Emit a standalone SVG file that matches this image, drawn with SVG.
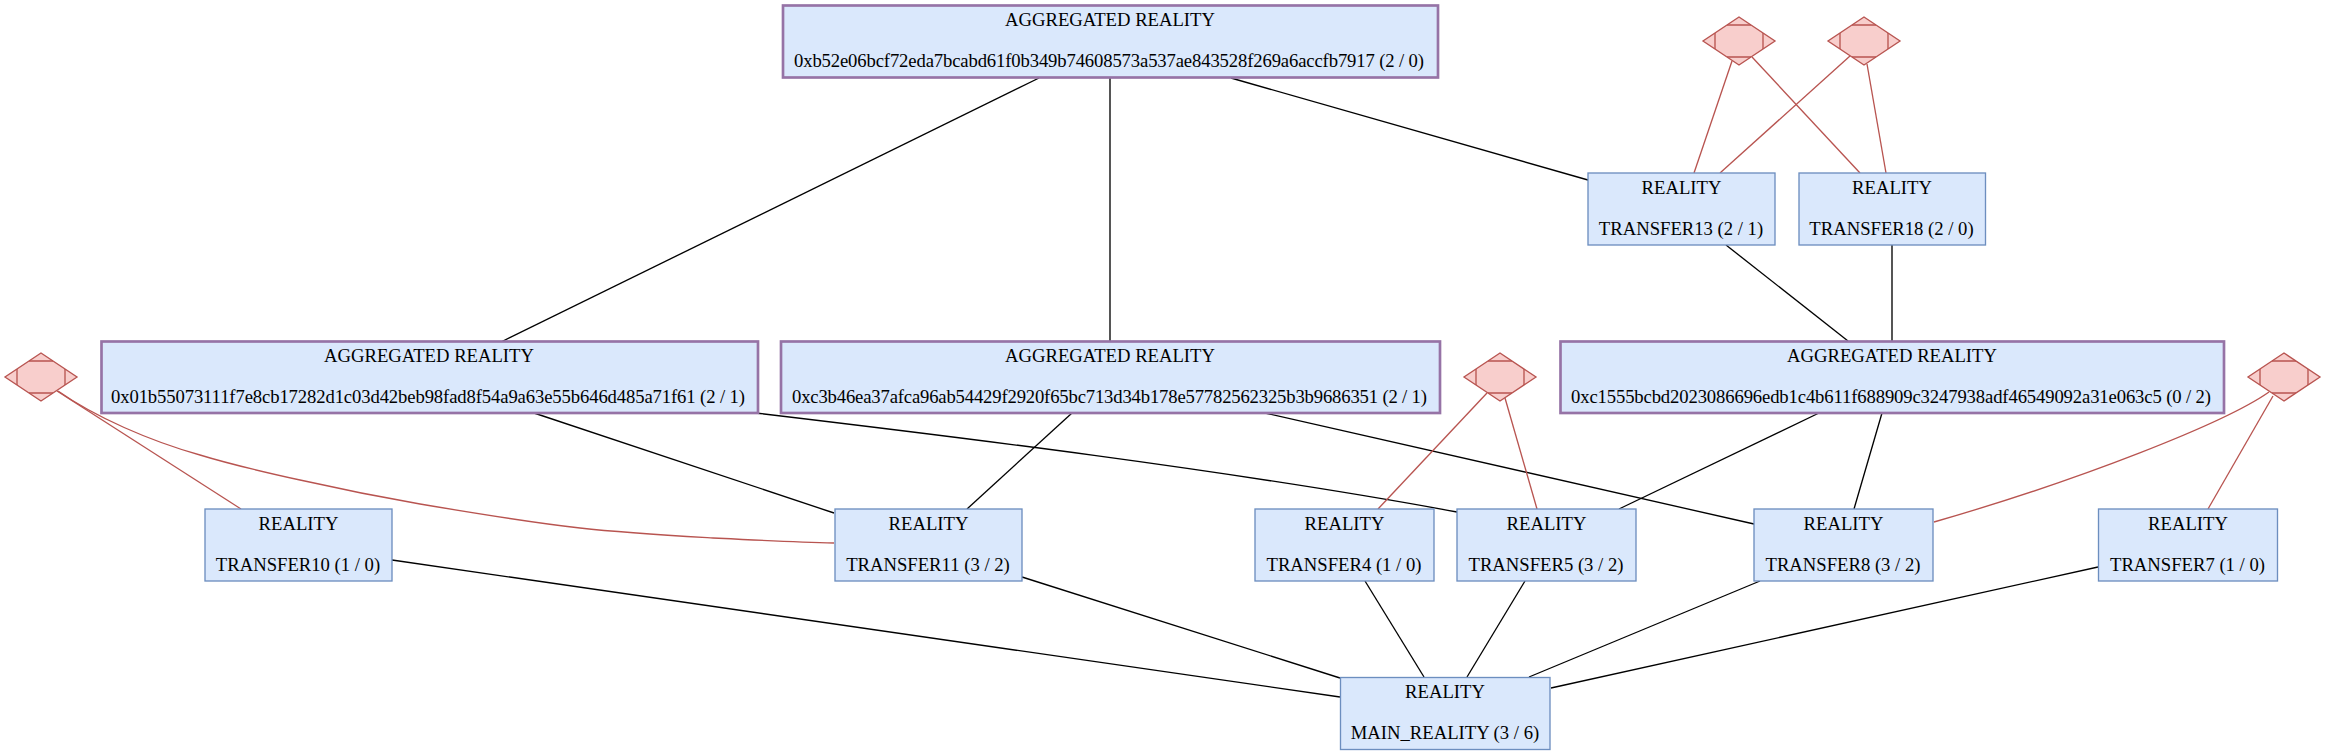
<svg xmlns="http://www.w3.org/2000/svg" width="2325" height="755" viewBox="0 0 2325 755">
<style>
text{font-family:"Liberation Serif","Times New Roman",serif;font-size:18.67px;text-anchor:middle;fill:#000}
.box{fill:#dae8fc;stroke:#6c8ebf;stroke-width:1.33}
.agg{fill:#dae8fc;stroke:#9673a6;stroke-width:2.67}
.dia{fill:#f8cecc;stroke:#b85450;stroke-width:1.33}
.e{fill:none;stroke:#000;stroke-width:1.33}
.r{fill:none;stroke:#b85450;stroke-width:1.33}
</style>
<defs>
<g id="mdiamond">
<polygon class="dia" points="0,-24 36,0 0,24 -36,0"/>
<path class="dia" d="M-12,-16H12M24,-8V8M12,16H-12M-24,8V-8"/>
</g>
</defs>
<rect width="2325" height="755" fill="#fff"/>
<g id="connectors">
<path class="e" d="M1039,78L501,342"/>
<path class="e" d="M1110,78V341"/>
<path class="e" d="M1231,78L1588,180"/>
<path class="e" d="M1726,245L1848,341"/>
<path class="e" d="M1892,245V341"/>
<path class="e" d="M534,413L834,513"/>
<path class="e" d="M756,413C950,436 1230,470 1457,512"/>
<path class="e" d="M1072,413L967,509"/>
<path class="e" d="M1265,413L1754,524"/>
<path class="e" d="M1819,413L1619,509"/>
<path class="e" d="M1882,413L1854,509"/>
<path class="e" d="M392,560L1340,697"/>
<path class="e" d="M1022,577L1340,678"/>
<path class="e" d="M1365,581L1424,677"/>
<path class="e" d="M1525,581L1467,677"/>
<path class="e" d="M1760,581L1529,677"/>
<path class="e" d="M2098,567L1551,688"/>
<path class="r" d="M1732,61L1694,173"/>
<path class="r" d="M1752,57L1860,173"/>
<path class="r" d="M1850,56L1720,173"/>
<path class="r" d="M1867,64L1886,173"/>
<path class="r" d="M57,391L241,509"/>
<path class="r" d="M58,391C95,417 150,441 200,455C236,466 268,473 300,480C340,489 380,497 420,504C473,513 527,522 580,528C625,533 670,535.5 713,538C754,540 794,542 834,543"/>
<path class="r" d="M1487,393L1378,509"/>
<path class="r" d="M1505,398L1537,509"/>
<path class="r" d="M2269,392C2225,423 2080,480 1934,522"/>
<path class="r" d="M2273,396L2208,509"/>
</g>
<g id="agg-b52"><rect class="agg" x="783" y="5.500" width="655" height="72"/><text x="1110" y="26">AGGREGATED REALITY</text><text x="1109" y="67" textLength="630">0xb52e06bcf72eda7bcabd61f0b349b74608573a537ae843528f269a6accfb7917 (2 / 0)</text></g>
<g id="agg-01b"><rect class="agg" x="101.500" y="341.500" width="656.500" height="71.500"/><text x="429" y="362">AGGREGATED REALITY</text><text x="428" y="403" textLength="634">0x01b55073111f7e8cb17282d1c03d42beb98fad8f54a9a63e55b646d485a71f61 (2 / 1)</text></g>
<g id="agg-c3b"><rect class="agg" x="781" y="341.500" width="659" height="71.500"/><text x="1110" y="362">AGGREGATED REALITY</text><text x="1109.500" y="403" textLength="635">0xc3b46ea37afca96ab54429f2920f65bc713d34b178e57782562325b3b9686351 (2 / 1)</text></g>
<g id="agg-c15"><rect class="agg" x="1560.500" y="341.500" width="663.500" height="71.500"/><text x="1892" y="362">AGGREGATED REALITY</text><text x="1891" y="403" textLength="640">0xc1555bcbd2023086696edb1c4b611f688909c3247938adf46549092a31e063c5 (0 / 2)</text></g>
<g id="t13"><rect class="box" x="1588" y="173" width="187" height="72"/><text x="1681.500" y="194">REALITY</text><text x="1681" y="235">TRANSFER13 (2 / 1)</text></g>
<g id="t18"><rect class="box" x="1799" y="173" width="186.500" height="72"/><text x="1892" y="194">REALITY</text><text x="1891.500" y="235">TRANSFER18 (2 / 0)</text></g>
<g id="t10"><rect class="box" x="205" y="509" width="187" height="72"/><text x="298.500" y="530">REALITY</text><text x="298" y="571">TRANSFER10 (1 / 0)</text></g>
<g id="t11"><rect class="box" x="835" y="509" width="187" height="72"/><text x="928.500" y="530">REALITY</text><text x="928" y="571">TRANSFER11 (3 / 2)</text></g>
<g id="t4"><rect class="box" x="1255" y="509" width="179" height="72"/><text x="1344.500" y="530">REALITY</text><text x="1344" y="571">TRANSFER4 (1 / 0)</text></g>
<g id="t5"><rect class="box" x="1457" y="509" width="179" height="72"/><text x="1546.500" y="530">REALITY</text><text x="1546" y="571">TRANSFER5 (3 / 2)</text></g>
<g id="t8"><rect class="box" x="1754" y="509" width="179" height="72"/><text x="1843.500" y="530">REALITY</text><text x="1843" y="571">TRANSFER8 (3 / 2)</text></g>
<g id="t7"><rect class="box" x="2098.500" y="509" width="179" height="72"/><text x="2188" y="530">REALITY</text><text x="2187.500" y="571">TRANSFER7 (1 / 0)</text></g>
<g id="main"><rect class="box" x="1340.500" y="677.500" width="209.500" height="72"/><text x="1445" y="698">REALITY</text><text x="1445" y="739">MAIN_REALITY (3 / 6)</text></g>
<g id="d1"><use href="#mdiamond" x="1739" y="41"/></g>
<g id="d2"><use href="#mdiamond" x="1864" y="41"/></g>
<g id="d0"><use href="#mdiamond" x="41" y="377"/></g>
<g id="d3"><use href="#mdiamond" x="1500" y="377"/></g>
<g id="d4"><use href="#mdiamond" x="2284" y="377"/></g>
</svg>
